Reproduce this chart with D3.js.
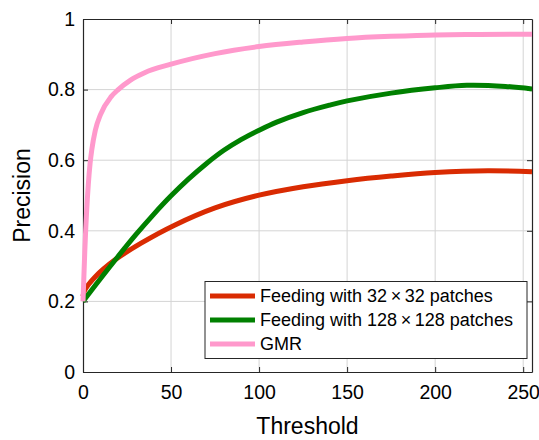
<!DOCTYPE html>
<html><head><meta charset="utf-8">
<script src="https://cdn.jsdelivr.net/npm/d3@7/dist/d3.min.js"></script>
<style>body{margin:0;background:#fff}svg{display:block}text{font-family:"Liberation Sans",Arial,sans-serif}</style>
</head><body>
<script>
const xTicks = [0, 50, 100, 150, 200, 250];
const yTicks = [0, 0.2, 0.4, 0.6, 0.8, 1];
const seriesNames = ["Feeding with 32\u2009\u00d7\u200932 patches", "Feeding with 128\u2009\u00d7\u2009128 patches", "GMR"];
const seriesColors = ["#d92b02", "#008000", "#ff99cc"];
const redX = [0, 1, 7, 18, 33, 52, 75, 100, 125, 150, 175, 200, 230, 255];
const redY = [0.215, 0.232, 0.27, 0.317, 0.365, 0.416, 0.465, 0.501, 0.525, 0.542, 0.555, 0.565, 0.570, 0.567];
const greenX = [0, 10, 20, 30, 40, 50, 60, 70, 80, 90, 100, 110, 125, 140, 150, 175, 200, 218, 240, 255];
const greenY = [0.2, 0.265, 0.328, 0.389, 0.446, 0.499, 0.547, 0.590, 0.628, 0.659, 0.685, 0.708, 0.735, 0.756, 0.768, 0.790, 0.805, 0.812, 0.809, 0.802];
const gmrX = [0, 0.5, 1, 1.5, 2, 3, 4, 5, 7, 10, 16, 20, 27, 35, 50, 75, 100, 125, 150, 175, 200, 225, 255];
const gmrY = [0.2, 0.27, 0.34, 0.40, 0.45, 0.53, 0.59, 0.63, 0.685, 0.73, 0.78, 0.80, 0.827, 0.848, 0.872, 0.902, 0.922, 0.935, 0.945, 0.951, 0.955, 0.956, 0.957];

const W = 539, H = 440;
const m = {l: 83, t: 19, r: 539 - 532, b: 440 - 372};
const svg = d3.select("body").append("svg").attr("width", W).attr("height", H);
const x = d3.scaleLinear().domain([0, 255]).range([m.l, W - m.r]);
const y = d3.scaleLinear().domain([0, 1]).range([H - m.b, m.t]);

// grid
svg.append("g").selectAll("line").data(xTicks.filter(d => d > 0)).join("line")
  .attr("x1", d => x(d)).attr("x2", d => x(d)).attr("y1", y(0)).attr("y2", y(1))
  .attr("stroke", "#d4d4d4").attr("stroke-width", 1);
svg.append("g").selectAll("line").data(yTicks.filter(d => d > 0 && d < 1)).join("line")
  .attr("x1", x(0)).attr("x2", x(255)).attr("y1", d => y(d)).attr("y2", d => y(d))
  .attr("stroke", "#d4d4d4").attr("stroke-width", 1);

// axes with inward ticks
const fs = "19.5px";
const gx = svg.append("g").attr("transform", `translate(0,${y(0)})`)
  .call(d3.axisBottom(x).tickValues(xTicks).tickSizeInner(-5).tickSizeOuter(0).tickPadding(13));
const gy = svg.append("g").attr("transform", `translate(${x(0)},0)`)
  .call(d3.axisLeft(y).tickValues(yTicks).tickFormat(d3.format("")).tickSizeInner(-5).tickSizeOuter(0).tickPadding(8));
const gx2 = svg.append("g").attr("transform", `translate(0,${y(1)})`)
  .call(d3.axisTop(x).tickValues(xTicks).tickSizeInner(-5).tickSizeOuter(0).tickFormat(""));
const gy2 = svg.append("g").attr("transform", `translate(${x(255)},0)`)
  .call(d3.axisRight(y).tickValues(yTicks).tickSizeInner(-5).tickSizeOuter(0).tickFormat(""));
[gx, gy, gx2, gy2].forEach(g => {
  g.selectAll("text").attr("font-size", fs).attr("fill", "#000").style("font-family", '"Liberation Sans",Arial,sans-serif');
  g.selectAll("line").attr("stroke", "#262626");
  g.select(".domain").attr("stroke", "#262626").attr("stroke-width", 1.2);
});

// lines
svg.append("clipPath").attr("id", "c").append("rect")
  .attr("x", x(0) - 3).attr("y", y(1)).attr("width", x(255) - x(0) + 3).attr("height", y(0) - y(1));
const smooth = d3.line().x(d => x(d[0])).y(d => y(d[1])).curve(d3.curveCatmullRom.alpha(0.5));
const mono = d3.line().x(d => x(d[0])).y(d => y(d[1])).curve(d3.curveMonotoneX);
const data = [d3.zip(redX, redY), d3.zip(greenX, greenY), d3.zip(gmrX, gmrY)];
svg.append("g").attr("clip-path", "url(#c)").selectAll("path").data(data).join("path")
  .attr("d", (d, i) => i === 2 ? mono(d) : smooth(d)).attr("fill", "none").attr("stroke", (d, i) => seriesColors[i])
  .attr("stroke-width", 5).attr("stroke-linejoin", "round");

// legend
const lg = svg.append("g");
lg.append("rect").attr("x", 205).attr("y", 281.5).attr("width", 322).attr("height", 77)
  .attr("fill", "#fff").attr("stroke", "#262626").attr("stroke-width", 1);
seriesNames.forEach((n, i) => {
  const yy = 296 + i * 24;
  lg.append("line").attr("x1", 210).attr("x2", 255).attr("y1", yy).attr("y2", yy)
    .attr("stroke", seriesColors[i]).attr("stroke-width", 5);
  lg.append("text").attr("x", 260).attr("y", yy).attr("dy", "0.35em").attr("font-size", "18px").text(n);
});

// titles
svg.append("text").attr("x", x(127.5)).attr("y", 434).attr("text-anchor", "middle")
  .attr("font-size", "23px").text("Threshold");
svg.append("text").attr("transform", `translate(29.5,${y(0.5)}) rotate(-90)`).attr("text-anchor", "middle")
  .attr("font-size", "23px").text("Precision");
</script>
</body></html>
